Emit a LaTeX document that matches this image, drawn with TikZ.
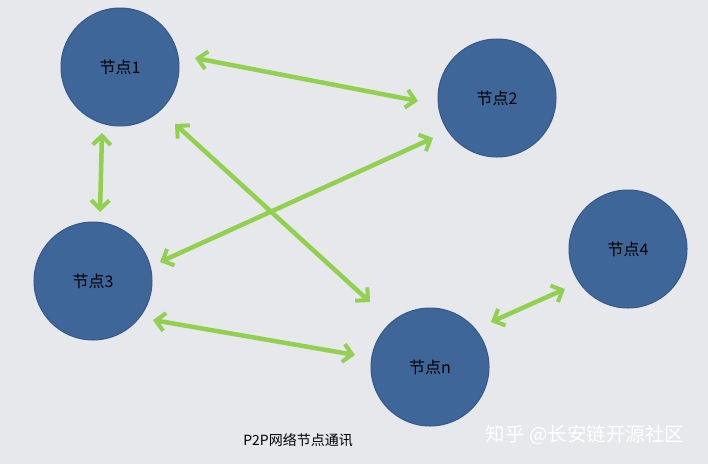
\documentclass[tikz,border=0pt]{standalone}
\usepackage{fontspec}
\setmainfont{Liberation Sans}
\newfontfamily\cjk{Noto Sans CJK SC}
\usetikzlibrary{arrows.meta}
\begin{document}
\begin{tikzpicture}[x=1pt,y=-1pt,
  peer/.style={circle,fill=nodeblue,draw=nodeedge,line width=1pt,minimum size=118pt,inner sep=0pt,font=\cjk\fontsize{16}{16}\selectfont,text=black},
  link/.style={draw=linkgreen,line width=4.5pt,{Straight Barb[length=9pt,width=18pt,line width=4pt]}-{Straight Barb[length=9pt,width=18pt,line width=4pt]}}]
\definecolor{bg}{HTML}{E6E8EC}
\definecolor{nodeblue}{HTML}{3E6698}
\definecolor{nodeedge}{HTML}{35598A}
\definecolor{linkgreen}{HTML}{92D050}
\fill[bg] (0,0) rectangle (708,464);
\useasboundingbox (0,0) rectangle (708,464);
\node[peer] (n1) at (120,67) {节点1};
\node[peer] (n2) at (497,98) {节点2};
\node[peer] (n3) at (93,281) {节点3};
\node[peer] (n4) at (628,249) {节点4};
\node[peer] (nn) at (430,367) {节点n};
\coordinate (a1) at (195,58); \coordinate (b1) at (418,101);
\coordinate (a2) at (102,133); \coordinate (b2) at (100,212);
\coordinate (a3) at (175,124); \coordinate (b3) at (370,302);
\coordinate (a4) at (160,262); \coordinate (b4) at (433,138);
\coordinate (a5) at (153,320); \coordinate (b5) at (355,355);
\coordinate (a6) at (491,322); \coordinate (b6) at (565,289);
\draw[link] (a1) -- (b1);
\draw[link] (a2) -- (b2);
\draw[link] (a3) -- (b3);
\draw[link] (a4) -- (b4);
\draw[link] (a5) -- (b5);
\draw[link] (a6) -- (b6);
\node[font=\cjk\fontsize{14}{14}\selectfont] (cap) at (298,440) {P2P网络节点通讯};
\node[font=\cjk\fontsize{19.5}{20}\selectfont,text=white] (wm) at (585,435) {知乎 @长安链开源社区};
\end{tikzpicture}
\end{document}
